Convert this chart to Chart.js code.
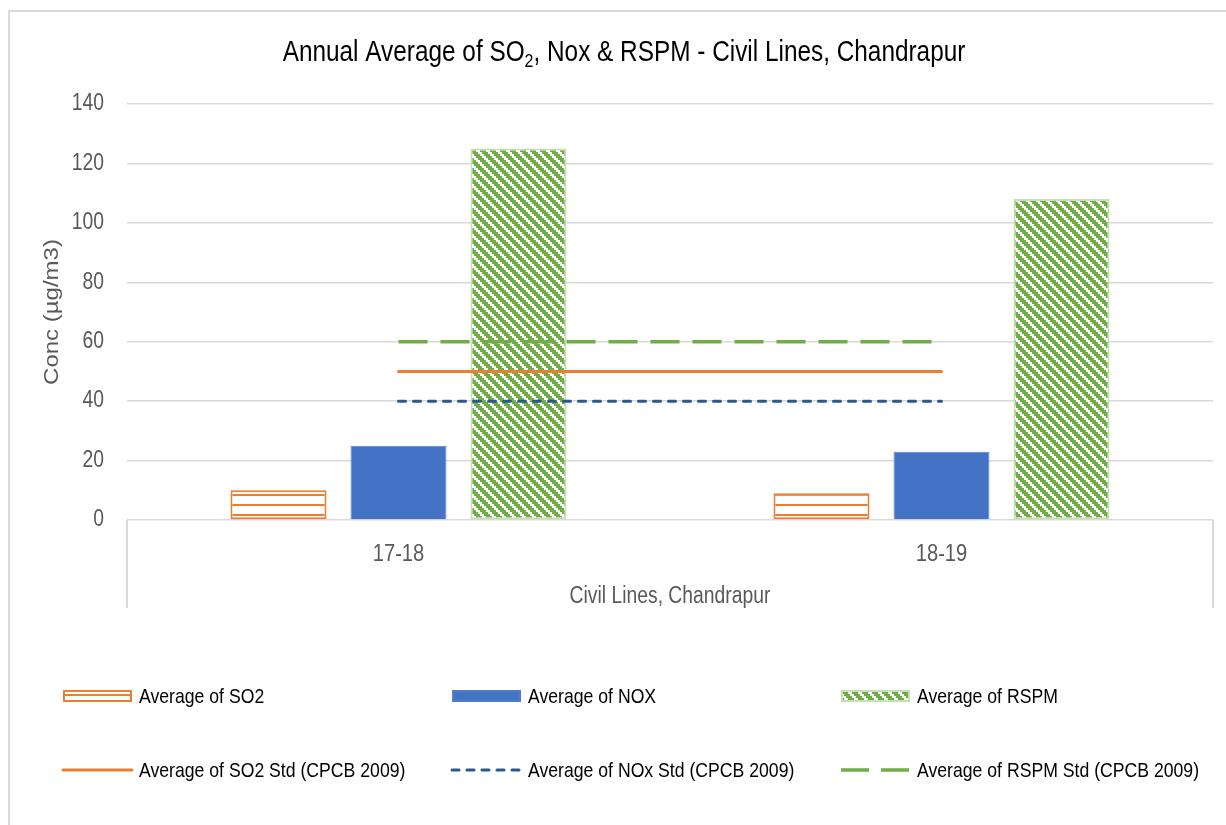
<!DOCTYPE html>
<html>
<head>
<meta charset="utf-8">
<title>Annual Average of SO2, Nox &amp; RSPM - Civil Lines, Chandrapur</title>
<script src="https://cdn.jsdelivr.net/npm/chart.js@4.4.4/dist/chart.umd.min.js"></script>
<style>
  html, body { margin: 0; padding: 0; background: #fff; overflow: hidden; }
  #wrap { position: relative; width: 1226px; height: 825px; }
  #frame { position: absolute; left: 8px; top: 10px; width: 1240px; height: 840px;
           border: 2px solid #d9d9d9; box-sizing: border-box; }
  #chart { position: absolute; left: 0; top: 0; }
</style>
</head>
<body>
<div id="wrap">
  <div id="frame"></div>
  <canvas id="chart" width="1226" height="825"></canvas>
</div>
<script>
  // ---- data ----
  const years = ['17-18', '18-19'];
  const so2Avg = [10, 9];
  const noxAvg = [25, 23];
  const rspmAvg = [125, 108];
  const so2Std = [50, 50];
  const noxStd = [40, 40];
  const rspmStd = [60, 60];
  const yMax = 140;
  const yStep = 20;

  const FONT = "'Liberation Sans', Arial, sans-serif";
  const NARROW = 0.84;   // horizontal squeeze applied to all text on the canvas
  const ORANGE = '#ED7D31';
  const BLUE = '#4472C4';
  const GREEN = '#70AD47';
  const NAVY = '#2A5A8C';
  const GRID = '#d9d9d9';
  const AXIS_TEXT = '#595959';

  const canvas = document.getElementById('chart');
  const ctx = canvas.getContext('2d');

  // horizontal stripes for the SO2 bars
  function stripePattern() {
    const t = document.createElement('canvas');
    t.width = 10; t.height = 10;
    const g = t.getContext('2d');
    g.fillStyle = '#fff'; g.fillRect(0, 0, 10, 10);
    g.fillStyle = ORANGE; g.fillRect(0, 4, 10, 2);
    return ctx.createPattern(t, 'repeat');
  }

  // stepped downward diagonal for the RSPM bars
  function diagonalPattern() {
    const t = document.createElement('canvas');
    t.width = 10; t.height = 10;
    const g = t.getContext('2d');
    g.fillStyle = '#fff'; g.fillRect(0, 0, 10, 10);
    g.fillStyle = GREEN;
    for (let y = 0; y < 10; y++) {
      for (let x = 0; x < 10; x++) {
        const k = ((Math.floor(x / 2) - Math.floor(y / 2)) % 5 + 5) % 5;
        if (k < 3) g.fillRect(x, y, 1, 1);
      }
    }
    return ctx.createPattern(t, 'repeat');
  }

  // squeeze every label horizontally (screen space) around its anchor point,
  // so rotated titles keep their length and only get thinner
  const narrowText = {
    id: 'narrowText',
    beforeInit(chart) {
      const c = chart.ctx;
      const wide = c.fillText;
      c.fillText = function (text, x, y) {
        const m = this.getTransform();
        const p = m.transformPoint(new DOMPoint(x, y));
        this.save();
        this.setTransform(new DOMMatrix()
          .translate(p.x, p.y).scale(NARROW, 1).translate(-p.x, -p.y)
          .multiply(m));
        wide.call(this, text, x, y);
        this.restore();
      };
    }
  };

  // title, category box and legend
  const framePlugin = {
    id: 'frame',
    afterDraw(chart) {
      const c = chart.ctx;
      const a = chart.chartArea;
      c.save();

      // category axis box
      c.strokeStyle = GRID;
      c.lineWidth = 2;
      c.beginPath();
      c.moveTo(a.left, a.bottom); c.lineTo(a.left, a.bottom + 88);
      c.moveTo(a.right, a.bottom); c.lineTo(a.right, a.bottom + 88);
      c.stroke();

      // title with subscript
      const big = '29px ' + FONT, small = '19px ' + FONT;
      const parts = [
        { t: 'Annual Average of SO', f: big, dy: 0 },
        { t: '2', f: small, dy: 6 },
        { t: ', Nox & RSPM - Civil Lines, Chandrapur', f: big, dy: 0 }
      ];
      let total = 0;
      parts.forEach(function (p) { c.font = p.f; p.w = c.measureText(p.t).width * NARROW; total += p.w; });
      let x = 624 - total / 2;
      c.fillStyle = '#000';
      c.textBaseline = 'alphabetic';
      c.textAlign = 'left';
      parts.forEach(function (p) { c.font = p.f; c.fillText(p.t, x, 61 + p.dy); x += p.w; });

      // legend: 3 columns x 2 rows
      c.font = '21px ' + FONT;
      c.textBaseline = 'middle';
      chart.data.datasets.forEach(function (ds, i) {
        const col = i % 3, row = Math.floor(i / 3);
        const sx = 63 + col * 389;
        const sy = 696 + row * 74;
        const sw = 69;
        if (ds.type === 'line') {
          c.save();
          c.strokeStyle = ds.borderColor;
          c.lineWidth = ds.borderWidth;
          c.lineCap = ds.borderCapStyle || 'butt';
          c.setLineDash(ds.legendDash || ds.borderDash || []);
          c.beginPath();
          c.moveTo(sx, sy); c.lineTo(sx + sw, sy);
          c.stroke();
          c.restore();
        } else {
          c.fillStyle = ds.backgroundColor;
          c.fillRect(sx, sy - 6, sw, 12);
          if (ds.borderWidth) {
            c.strokeStyle = ds.borderColor;
            c.lineWidth = ds.borderWidth;
            c.strokeRect(sx + 1, sy - 5, sw - 2, 10);
          }
        }
        c.fillStyle = '#000';
        c.fillText(ds.label, sx + 76, sy + 1);
      });

      c.restore();
    }
  };

  Chart.defaults.font.family = FONT;

  new Chart(ctx, {
    data: {
      labels: years,
      datasets: [
        { type: 'bar', label: 'Average of SO2', data: so2Avg, order: 1,
          backgroundColor: stripePattern(), borderColor: ORANGE, borderWidth: 2, borderSkipped: false },
        { type: 'bar', label: 'Average of NOX', data: noxAvg, order: 1,
          backgroundColor: BLUE, borderColor: '#5B86CF', borderWidth: 1 },
        { type: 'bar', label: 'Average of RSPM', data: rspmAvg, order: 1,
          backgroundColor: diagonalPattern(), borderColor: '#C5E0B4', borderWidth: 2, borderSkipped: false },
        { type: 'line', label: 'Average of SO2 Std (CPCB 2009)', data: so2Std, order: 0,
          borderColor: ORANGE, borderWidth: 3, pointRadius: 0, borderCapStyle: 'round' },
        { type: 'line', label: 'Average of NOx Std (CPCB 2009)', data: noxStd, order: 0,
          borderColor: NAVY, borderWidth: 3, pointRadius: 0, borderDash: [7, 8], borderCapStyle: 'round',
          legendDash: [7, 8] },
        { type: 'line', label: 'Average of RSPM Std (CPCB 2009)', data: rspmStd, order: 0,
          borderColor: GREEN, borderWidth: 3.5, pointRadius: 0, borderDash: [29, 13],
          legendDash: [28, 12] }
      ]
    },
    options: {
      responsive: false,
      animation: false,
      layout: { padding: { left: 8, right: 13, top: 104, bottom: 217 } },
      plugins: {
        legend: { display: false },
        title: { display: false },
        tooltip: { enabled: false }
      },
      datasets: {
        bar: { categoryPercentage: 0.663, barPercentage: 0.8 }
      },
      scales: {
        x: {
          offset: true,
          grid: { display: false },
          border: { display: false },
          ticks: { color: AXIS_TEXT, font: { size: 24 }, padding: 12 },
          title: { display: true, text: 'Civil Lines, Chandrapur', color: AXIS_TEXT,
                   font: { size: 23 }, padding: { top: 0, bottom: -2 } },
          afterFit: function (s) { s.height = 88; }
        },
        y: {
          min: 0, max: yMax,
          grid: { color: GRID, lineWidth: 1.5, drawTicks: false },
          border: { display: false },
          ticks: { stepSize: yStep, color: AXIS_TEXT, font: { size: 23 }, padding: 23 },
          title: { display: true, text: 'Conc (µg/m3)', color: AXIS_TEXT,
                   font: { size: 24 }, padding: { top: 30, bottom: 0 } },
          afterFit: function (s) { s.width = 119; }
        }
      }
    },
    plugins: [narrowText, framePlugin]
  });
</script>
</body>
</html>
